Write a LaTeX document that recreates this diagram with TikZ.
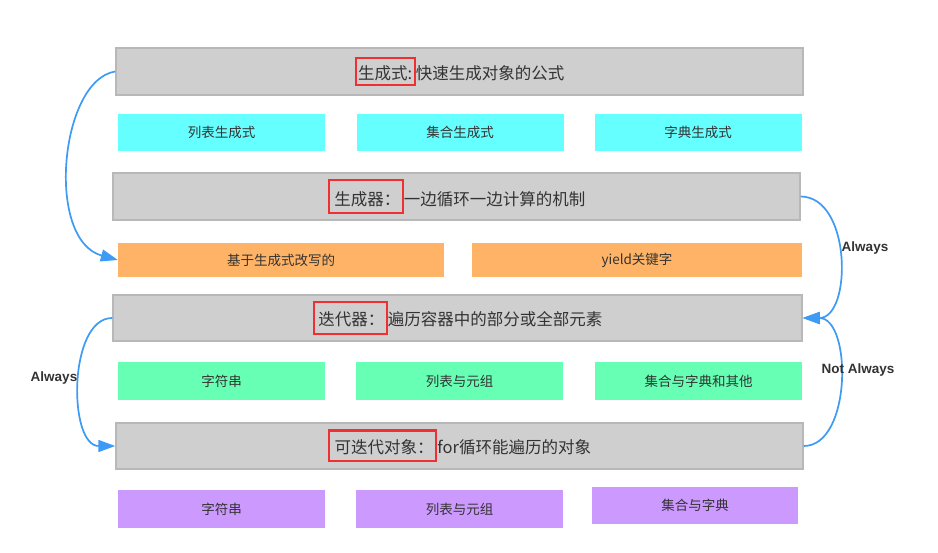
\documentclass[tikz,border=0pt]{standalone}
\usepackage{fontspec}
\setmainfont{Noto Sans CJK SC}
\newfontfamily\lblfont{Liberation Sans}
\usetikzlibrary{arrows.meta}
\definecolor{hdrgray}{HTML}{CFCFCF}
\definecolor{hdrline}{HTML}{B8B8B8}
\definecolor{cyanbox}{HTML}{66FFFF}
\definecolor{orangebox}{HTML}{FFB366}
\definecolor{greenbox}{HTML}{66FFB3}
\definecolor{purplebox}{HTML}{CC99FF}
\definecolor{redline}{HTML}{F03030}
\definecolor{txt}{HTML}{333333}
\definecolor{arrowblue}{HTML}{3D9BF5}
\setlength\fboxrule{2.2pt}
\setlength\fboxsep{1.5pt}
\newcommand\redframe[4]{\fcolorbox{redline}{hdrgray}{\hspace{#3}\rule[-#1]{0pt}{#2}#4}}
\begin{document}
\begin{tikzpicture}[x=1pt,y=-1pt,
  hdr/.style={fill=hdrgray,draw=hdrline,line width=1.5pt,inner sep=0pt,minimum width=687pt,minimum height=47pt,text=txt,font=\fontsize{16.5}{19}\selectfont},
  sub/.style={inner sep=0pt,minimum width=207pt,minimum height=37pt,text=txt,font=\fontsize{13.5}{15}\selectfont},
  conn/.style={draw=arrowblue,line width=1.7pt,-{Triangle[length=17pt,width=12pt]}},
  lbl/.style={text=txt,font=\lblfont\bfseries\fontsize{13.5}{15}\selectfont}]
\useasboundingbox (0,0) rectangle (938,553);
\fill[white] (0,0) rectangle (938,553);

% headers
\node[hdr] (h1) at (459.5,71.5) {\redframe{2.5pt}{21.6pt}{0pt}{生成式:}快速生成对象的公式};
\node[hdr] (h2) at (456.5,196.5) {\redframe{4.3pt}{27.6pt}{3pt}{生成器：}一边循环一边计算的机制};
\node[hdr,minimum width=689pt,minimum height=46pt] (h3) at (457.5,318) {\redframe{6pt}{26.6pt}{2pt}{迭代器：}遍历容器中的部分或全部元素};
\node[hdr,minimum height=46pt] (h4) at (459.5,446) {\redframe{5.5pt}{25.6pt}{3pt}{可迭代对象：}for循环能遍历的对象};

% cyan
\node[sub,fill=cyanbox] (c1) at (221.5,132.5) {列表生成式};
\node[sub,fill=cyanbox] (c2) at (460,132.5) {集合生成式};
\node[sub,fill=cyanbox] (c3) at (698,132.5) {字典生成式};

% orange
\node[sub,fill=orangebox,minimum width=326pt,minimum height=34pt] (o1) at (281,260) {基于生成式改写的};
\node[sub,fill=orangebox,minimum width=330pt,minimum height=34pt] (o2) at (637,260) {yield关键字};

% green
\node[sub,fill=greenbox,minimum height=38pt] (g1) at (221.5,381) {字符串};
\node[sub,fill=greenbox,minimum height=38pt] (g2) at (459.5,381) {列表与元组};
\node[sub,fill=greenbox,minimum height=38pt] (g3) at (698.5,381) {集合与字典和其他};

% purple
\node[sub,fill=purplebox,minimum height=38pt] (p1) at (221.5,509) {字符串};
\node[sub,fill=purplebox,minimum height=38pt] (p2) at (459.5,509) {列表与元组};
\node[sub,fill=purplebox,minimum width=206pt] (p3) at (695,505.5) {集合与字典};

% connectors
\draw[conn] (h1.west) .. controls (60,80) and (45,240) .. (o1.west);
\draw[conn] (h2.east) .. controls (852,197) and (852,318) .. (h3.east);
\draw[conn] (h4.east) .. controls (852,446) and (852,318) .. (h3.east);
\draw[conn] (h3.west) .. controls (68,318) and (68,446) .. (h4.west);

% labels
\node[lbl] (la1) at (865,248) {Always};
\node[lbl] (la2) at (858,370) {Not Always};
\node[lbl] (la3) at (54,378) {Always};
\end{tikzpicture}
\end{document}
